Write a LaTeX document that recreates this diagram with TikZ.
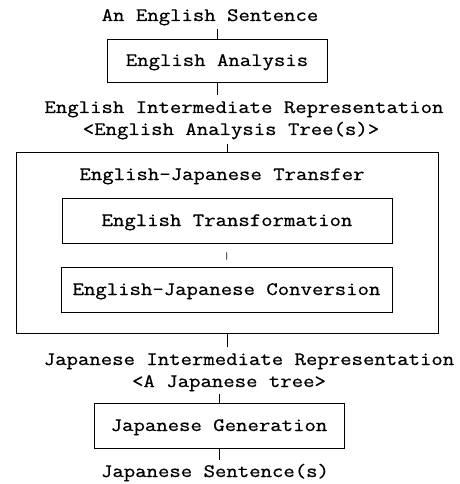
\documentclass[tikz,border=0pt]{standalone}
\usepackage{fontspec}
\newfontfamily\lmtt{Latin Modern Mono}[FakeStretch=1.165,FakeBold=0.7]
\tikzset{
  lbl/.style={anchor=base,inner sep=0pt,font=\lmtt\fontsize{19}{22}\selectfont},
  stage/.style={draw,line width=0.9pt,inner sep=0pt,text height=11pt,text depth=0pt,
    font=\lmtt\fontsize{19}{22}\selectfont},
  tick/.style={line width=0.8pt}
}
\begin{document}
\begin{tikzpicture}[x=1pt,y=-1pt]
  \useasboundingbox (0,0) rectangle (459,484);
  % texts between the stages
  \node[lbl] (sent) at (210,21) {An English Sentence};
  \node[lbl] (eir) at (244,113) {English Intermediate Representation};
  \node[lbl] (etree) at (231,135) {<English Analysis Tree(s)>};
  \node[lbl] (jir) at (249,365) {Japanese Intermediate Representation};
  \node[lbl] (jtree) at (229,387) {<A Japanese tree>};
  \node[lbl] (jsent) at (215,477) {Japanese Sentence(s)};
  % stages
  \node[stage,minimum width=220pt,minimum height=43pt] (ana) at (217,60.5) {English Analysis};
  \node[draw,line width=0.9pt,minimum width=422pt,minimum height=181pt] (trans) at (227,242.5) {};
  \node[lbl] (transl) at (222,180) {English-Japanese Transfer};
  \node[stage,minimum width=330pt,minimum height=45pt] (form) at (227,220.5) {English Transformation};
  \node[stage,minimum width=331pt,minimum height=45pt] (conv) at (226.5,289.5) {English-Japanese Conversion};
  \node[stage,minimum width=250pt,minimum height=45pt] (gen) at (219,425.5) {Japanese Generation};
  % ticks
  \draw[tick,shorten <=3pt] (sent.south -| ana.north) -- (ana.north);
  \draw[tick,shorten >=6pt] (ana.south) -- (eir.north -| ana.south);
  \draw[tick,shorten <=4pt] (etree.south -| trans.north) -- (trans.north);
  \draw[tick,shorten <=9pt,shorten >=7pt] (form.south) -- (conv.north);
  \draw[tick,shorten >=6pt] (trans.south) -- (jir.north -| trans.south);
  \draw[tick,shorten <=3pt] (jtree.south -| gen.north) -- (gen.north);
  \draw[tick,shorten >=4pt] (gen.south) -- (jsent.north -| gen.south);
\end{tikzpicture}
\end{document}
